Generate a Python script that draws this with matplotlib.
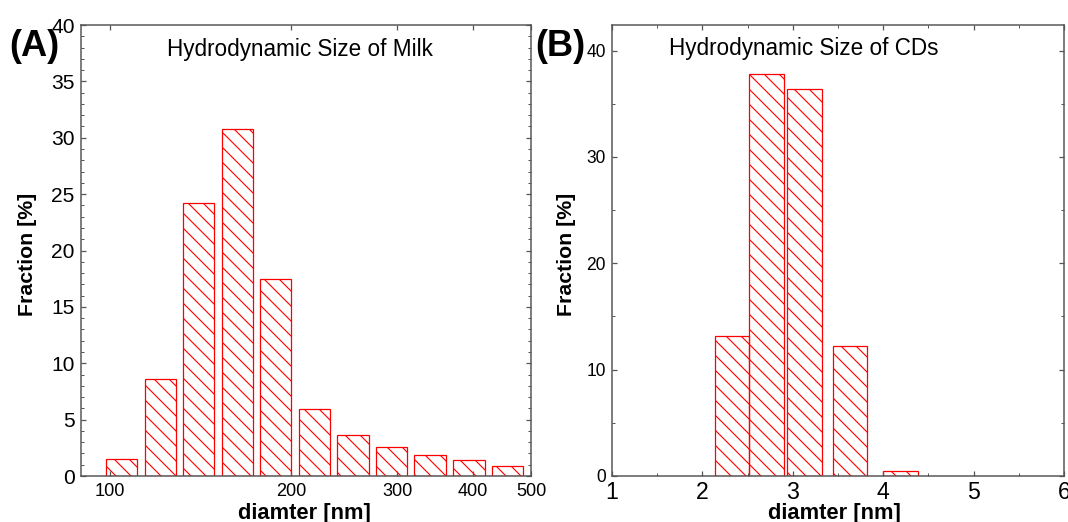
import matplotlib
matplotlib.use("Agg")
import matplotlib.pyplot as plt
import numpy as np
from matplotlib.ticker import FixedLocator, NullLocator, MultipleLocator, NullFormatter

plt.rcParams['font.family'] = ['Liberation Sans', 'DejaVu Sans']
plt.rcParams['hatch.linewidth'] = 0.9

# Milk: log-spaced size bins (geometric centres, nm) and fractions (%)
milk_centers = [104.5, 121.2, 140.3, 162.7, 188.5, 218.6, 253.1, 293.1, 340.0, 394.4, 456.5]
milk_fraction = [1.5, 8.6, 24.2, 30.8, 17.5, 5.9, 3.6, 2.6, 1.9, 1.4, 0.9]
milk_xticks = [100, 200, 300, 400, 500]

# Carbon dots: bin edges (nm) and fractions (%)
cd_left = [2.14, 2.51, 2.94, 3.44, 4.00]
cd_right = [2.51, 2.90, 3.32, 3.82, 4.39]
cd_fraction = [13.2, 37.8, 36.4, 12.2, 0.45]
cd_xticks = [1, 2, 3, 4, 5, 6]

RED = '#ff0000'
SPINE = '#555555'
HATCH = '\\\\'

W, H, DPI = 1068, 522, 90
fig = plt.figure(figsize=(W / DPI, H / DPI), dpi=DPI)

axA = fig.add_axes([81 / W, 46 / H, 450 / W, 451 / H])
axB = fig.add_axes([612 / W, 46 / H, 452 / W, 451 / H])

# ---- panel A ----
half = 10 ** 0.026
lefts = [c / half for c in milk_centers]
widths = [c * half - c / half for c in milk_centers]
axA.bar(lefts, milk_fraction, width=widths, align='edge', facecolor='none',
        edgecolor=RED, hatch=HATCH, linewidth=1.0)
axA.set_xscale('log')
axA.set_xlim(89.5, 500)
axA.set_ylim(0, 40)
axA.xaxis.set_major_locator(FixedLocator(milk_xticks))
axA.xaxis.set_minor_locator(NullLocator())
axA.xaxis.set_minor_formatter(NullFormatter())
axA.set_xticklabels([str(t) for t in milk_xticks])
axA.yaxis.set_major_locator(MultipleLocator(5))
axA.yaxis.set_minor_locator(MultipleLocator(1))
axA.tick_params(axis='y', which='major', labelsize=16.8, pad=5)
axA.tick_params(axis='x', which='major', labelsize=14.5, pad=6)
axA.text(0.4856, 0.9446, 'Hydrodynamic Size of Milk', transform=axA.transAxes,
         ha='center', va='center', fontsize=18)

# ---- panel B ----
axB.bar(cd_left, cd_fraction, width=np.array(cd_right) - np.array(cd_left), align='edge',
        facecolor='none', edgecolor=RED, hatch=HATCH, linewidth=1.0)
axB.set_xlim(1, 6)
axB.set_ylim(0, 42.4)
axB.xaxis.set_major_locator(FixedLocator(cd_xticks))
axB.xaxis.set_minor_locator(MultipleLocator(0.5))
axB.yaxis.set_major_locator(MultipleLocator(10))
axB.yaxis.set_minor_locator(MultipleLocator(5))
axB.tick_params(axis='y', which='major', labelsize=14, pad=5)
axB.tick_params(axis='x', which='major', labelsize=18.5, pad=4)
axB.text(0.425, 0.949, 'Hydrodynamic Size of CDs', transform=axB.transAxes,
         ha='center', va='center', fontsize=18)

for ax, ylab_x, xlab_x in [(axA, -0.118, 0.4956), (axB, -0.0996, 0.493)]:
    for s in ax.spines.values():
        s.set_color(SPINE)
        s.set_linewidth(1.2)
    ax.tick_params(which='both', direction='in', top=True, right=True, color=SPINE)
    ax.tick_params(which='major', length=4, width=1.0)
    ax.tick_params(which='minor', length=2.5, width=0.8)
    ax.set_ylabel('Fraction [%]', fontsize=17, fontweight='bold')
    ax.set_xlabel('diamter [nm]', fontsize=17.5, fontweight='bold')
    ax.yaxis.set_label_coords(ylab_x, 0.492)
    ax.yaxis.label.set_va('center')
    ax.xaxis.set_label_coords(xlab_x, -0.083)
    ax.xaxis.label.set_va('center')

fig.text(34 / W, 1 - 47 / H, '(A)', ha='center', va='center', fontsize=29, fontweight='bold')
fig.text(560 / W, 1 - 47 / H, '(B)', ha='center', va='center', fontsize=29, fontweight='bold')

fig.savefig('out.png', dpi=DPI)
